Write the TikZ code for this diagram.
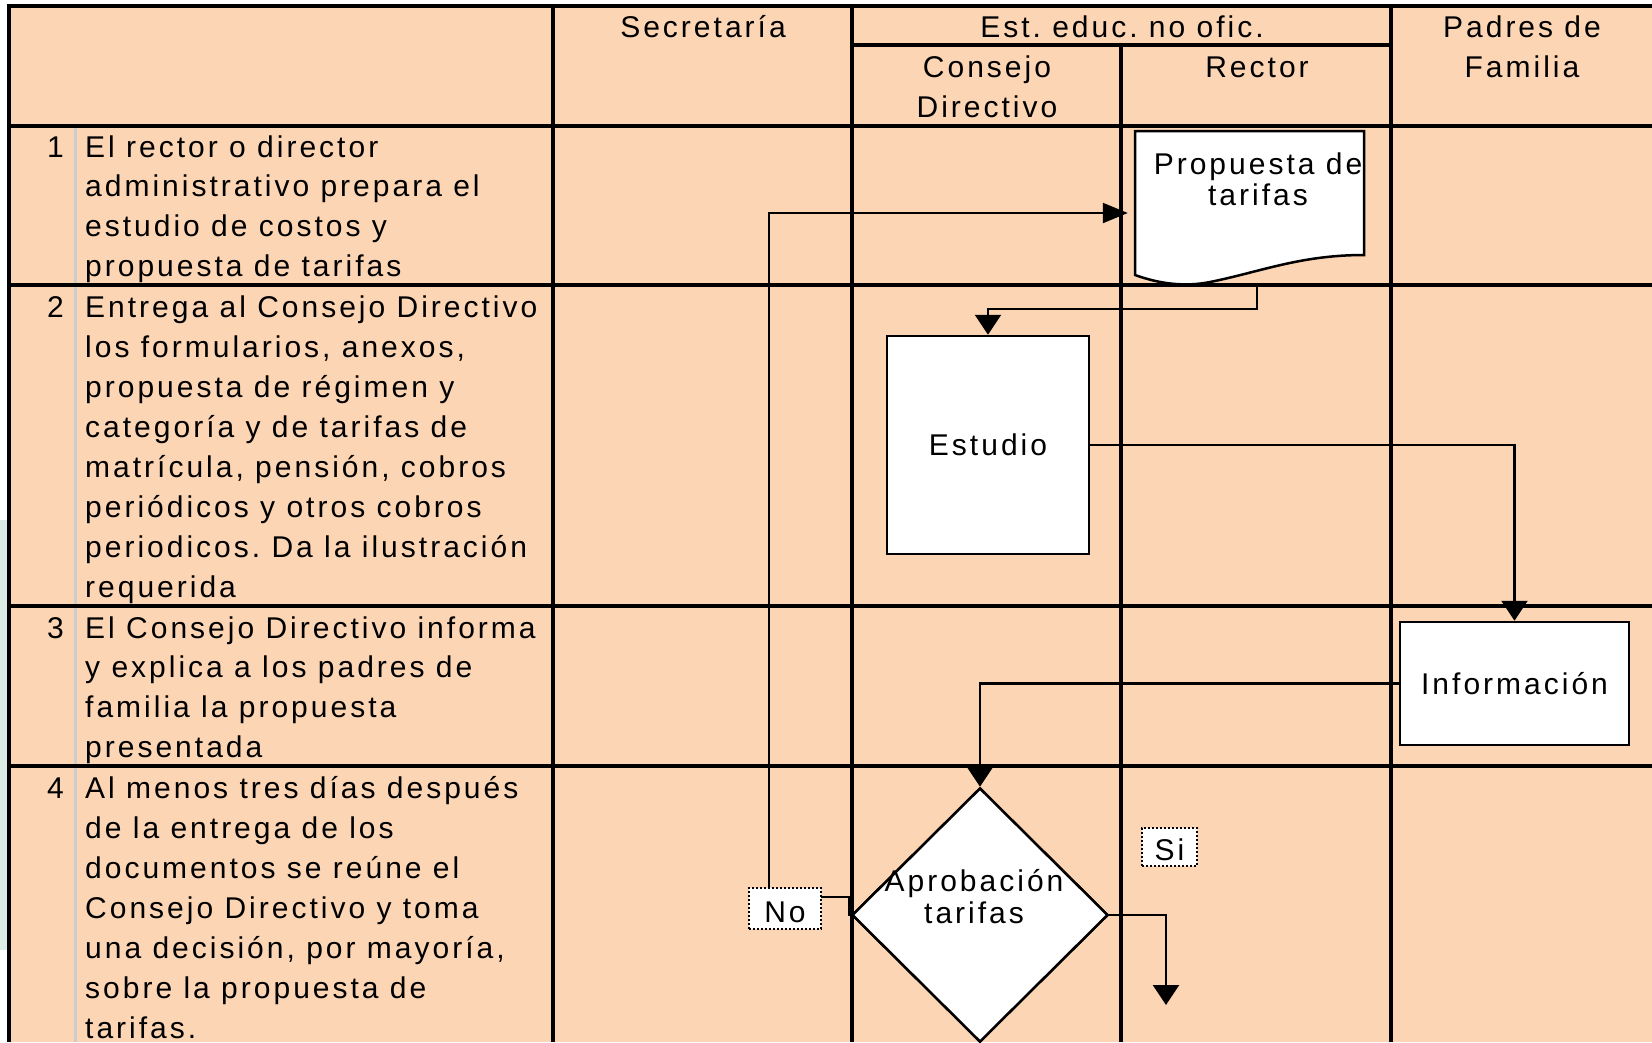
\documentclass[tikz,border=0pt]{standalone}
\usepackage{fontspec}
\setmainfont{Liberation Sans}[LetterSpace=10]
\usetikzlibrary{arrows.meta,shapes.geometric}
\definecolor{peach}{RGB}{252,213,180}
\definecolor{sepgray}{RGB}{205,205,205}
\definecolor{paleg}{RGB}{218,236,228}
\newcommand\leftlines[2]{\vtop{\baselineskip=#1\relax\halign{##\hfil\cr#2\crcr}}}
\newcommand\midlines[2]{\vtop{\baselineskip=#1\relax\halign{\hfil##\hfil\cr#2\crcr}}}
\frenchspacing
\begin{document}
\begin{tikzpicture}[x=1pt,y=-1pt,
  lane/.style={line width=3.2pt},
  sepline/.style={line width=3pt,draw=sepgray},
  box/.style={draw,line width=2.5pt,fill=white,inner sep=0pt,font=\fontsize{30}{31}\selectfont},
  conn/.style={line width=2.2pt},
  arr/.style={-{Triangle[length=20pt,width=26pt]}},
  harr/.style={-{Triangle[length=25pt,width=20pt]}},
  txt/.style={inner sep=0pt,font=\fontsize{30}{39.9}\selectfont},
  desc/.style={txt,anchor=base west},
  num/.style={txt,anchor=base east},
  head/.style={txt,anchor=base},
  lab/.style={draw,line width=1.8pt,dash pattern={on 1.8pt off 2.2pt},fill=white,inner sep=0pt,text height=27pt,text depth=0pt,font=\fontsize{30}{31}\selectfont}
]
\useasboundingbox (0,0) rectangle (1652,1042);
\clip (0,0) rectangle (1652,1042);
% page background
\fill[white] (0,0) rectangle (1652,1042);
\fill[paleg] (0,520) rectangle (7.5,950);
\fill[peach] (9,6) rectangle (1652,1042);
% lane grid
\draw[sepline] (75,126) -- (75,1042);
\draw[lane] (7.4,6) -- (1652,6);
\draw[lane] (852,45) -- (1391,45);
\draw[lane] (7.4,126) -- (1652,126);
\draw[lane] (7.4,285) -- (1652,285);
\draw[lane] (7.4,606) -- (1652,606);
\draw[lane] (7.4,766) -- (1652,766);
\draw[lane] (9,4.4) -- (9,1042);
\draw[lane] (553,4.4) -- (553,1042);
\draw[lane] (852,4.4) -- (852,1042);
\draw[lane] (1121,45) -- (1121,1042);
\draw[lane] (1391,4.4) -- (1391,1042);
% headers
\node[head] (hsec) at (703,37) {Secretaría};
\node[head] (hest) at (1122,37) {Est. educ. no ofic.};
\node[head] (hpad) at (1522,37) {\midlines{40pt}{Padres de\cr Familia}};
\node[head] (hcon) at (987,77) {\midlines{40pt}{Consejo\cr Directivo}};
\node[head] (hrec) at (1257,77) {Rector};
% step numbers and descriptions
\node[num] (n1) at (64,157) {1};
\node[num] (n2) at (64,317) {2};
\node[num] (n3) at (64,638) {3};
\node[num] (n4) at (64,798) {4};
\node[desc] (d1) at (85,157) {\leftlines{39.9pt}{El rector o director\cr administrativo prepara el\cr estudio de costos y\cr propuesta de tarifas}};
\node[desc] (d2) at (85,317) {\leftlines{40.1pt}{Entrega al Consejo Directivo\cr los formularios, anexos,\cr propuesta de régimen y\cr categoría y de tarifas de\cr matrícula, pensión, cobros\cr periódicos y otros cobros\cr periodicos. Da la ilustración\cr requerida}};
\node[desc] (d3) at (85,638) {\leftlines{39.9pt}{El Consejo Directivo informa\cr y explica a los padres de\cr familia la propuesta\cr presentada}};
\node[desc] (d4) at (85,798) {\leftlines{40pt}{Al menos tres días después\cr de la entrega de los\cr documentos se reúne el\cr Consejo Directivo y toma\cr una decisión, por mayoría,\cr sobre la propuesta de\cr tarifas.}};
% shapes (anchors)
\node[inner sep=0pt,minimum width=229pt,minimum height=144pt] (prop) at (1249.5,203) {};
\node[box,minimum width=202pt,minimum height=218pt] (est) at (988,445) {Estudio};
\node[box,minimum width=229pt,minimum height=123pt] (info) at (1514.5,683.5) {Información};
\node[box,diamond,minimum width=256pt,minimum height=254pt] (dia) at (980,915) {};
% connectors
\draw[conn,harr] (dia.west) -- ++(-2,0) -- ++(0,-18) -- ++(-80,0) |- ([shift={(-7,10)}]prop.west);
\draw[conn,arr] ([shift={(7.5,9)}]prop.south) -- ++(0,25) -| (est.north);
\draw[conn,arr] (est.east) -| (info.north);
\draw[conn,arr] (info.west) -| (dia.north);
\coordinate (siEnd) at (1166,1005);
\draw[conn,arr] ([xshift=-14pt]dia.east) -| (siEnd);
% redraw shapes on top
\node[box,diamond,minimum width=256pt,minimum height=254pt] (dia2) at (dia) {};
\draw[line width=2.5pt,fill=white] (1135,131) -- (1364,131) -- (1364,255)
  .. controls (1300,255) and (1260,272) .. (1210,282)
  .. controls (1185,287) and (1160,284) .. (1135,275) -- cycle;
\node[txt,anchor=base] (ptxt) at (1258,174) {\midlines{31pt}{Propuesta de\cr tarifas}};
\node[txt,anchor=base] (dtxt) at (974,891) {\midlines{32pt}{Aprobación\cr tarifas}};
% labels
\node[lab,minimum width=72pt,minimum height=41pt] (nolab) at (785,908.5) {No};
\node[lab,minimum width=55pt,minimum height=38pt] (silab) at (1169.5,847) {Si};
\end{tikzpicture}
\end{document}
